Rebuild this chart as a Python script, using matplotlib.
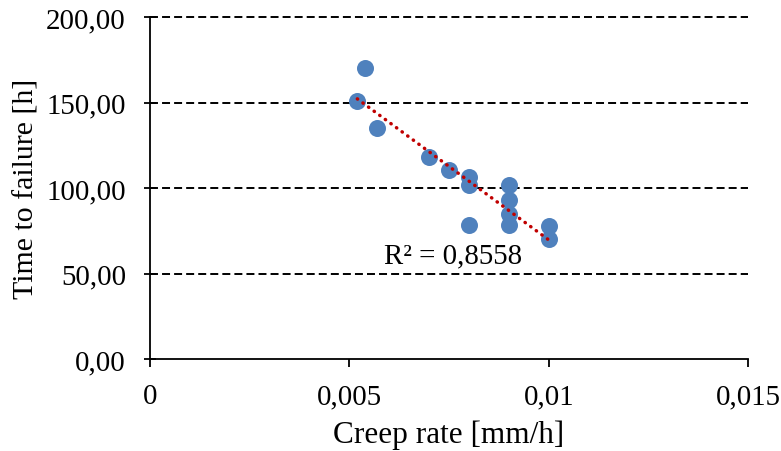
import numpy as np
from matplotlib import pyplot as plt

# creep rate [mm/h] and time to failure [h]
creep_rate = [0.0052, 0.0054, 0.0057, 0.0070, 0.0075, 0.0080, 0.0080, 0.0080,
              0.0090, 0.0090, 0.0090, 0.0090, 0.0100, 0.0100]
time_to_failure = [151.0, 170.0, 135.0, 118.0, 110.5, 106.5, 101.5, 78.5,
                   101.5, 93.0, 85.0, 78.5, 78.0, 70.0]
r2_label = "R² = 0,8558"

x_ticks = [0, 0.005, 0.01, 0.015]
x_tick_labels = ['0', '0,005', '0,01', '0,015']
y_ticks = [0, 50, 100, 150, 200]
y_tick_labels = ['0,00', '50,00', '100,00', '150,00', '200,00']

plt.rcParams['font.family'] = ['Liberation Serif', 'DejaVu Serif']

fig = plt.figure(figsize=(7.81, 4.52), dpi=100)
ax = fig.add_axes([0.192, 0.2035, 0.766, 0.7565])

x = np.array(creep_rate)
y = np.array(time_to_failure)

for gy in y_ticks[1:]:
    ax.axhline(gy, color='black', linestyle=(0, (4.1, 2.1)), linewidth=1.4,
               zorder=1, clip_on=False)

ax.scatter(x, y, s=150, color='#4F81BD', zorder=3, linewidths=0)

# linear trendline
k, c = np.polyfit(x, y, 1)
xt = np.linspace(x.min(), x.max(), 100)
ax.plot(xt, k * xt + c, color='#C00000', linestyle=(0, (0.1, 1.9)),
        linewidth=2.5, dash_capstyle='round', zorder=4)

ax.text(0.00586, 60.8, r2_label, fontsize=20.8, va='center', ha='left')

ax.set_xlim(0, 0.015)
ax.set_ylim(0, 200)
ax.set_xticks(x_ticks)
ax.set_xticklabels(x_tick_labels)
ax.set_yticks(y_ticks)
ax.set_yticklabels(y_tick_labels)
ax.tick_params(axis='x', direction='out', length=6, width=1.3, labelsize=20.8, pad=11.5)
ax.tick_params(axis='y', direction='inout', length=8.5, width=1.3, labelsize=20.8, pad=13)

for s in ['top', 'right']:
    ax.spines[s].set_visible(False)
for s in ['left', 'bottom']:
    ax.spines[s].set_linewidth(1.3)

ax.set_xlabel('Creep rate [mm/h]', fontsize=22.5, labelpad=7.5)
ax.set_ylabel('Time to failure [h]', fontsize=21.5, labelpad=4.5)

fig.savefig('out.png', dpi=100)
